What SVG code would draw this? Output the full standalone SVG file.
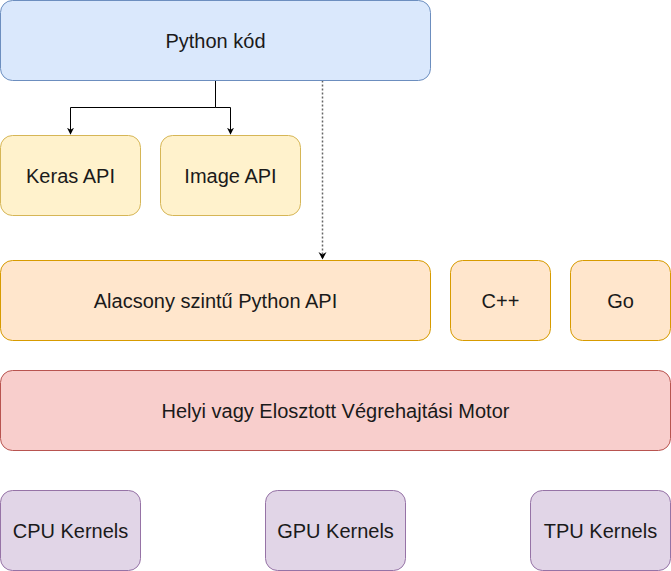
<svg xmlns="http://www.w3.org/2000/svg" width="671" height="571" viewBox="0 0 671 571">
<style>
text{font-family:"Liberation Sans",Arial,Helvetica,sans-serif;font-size:20px;fill:#1a1a1a;text-anchor:middle}
.blue{fill:#dae8fc;stroke:#6c8ebf}
.yel{fill:#fff2cc;stroke:#d6b656}
.ora{fill:#ffe6cc;stroke:#d79b00}
.red{fill:#f8cecc;stroke:#b85450}
.pur{fill:#e1d5e7;stroke:#9673a6}
rect{stroke-width:1}
.edge{fill:none;stroke:#000;stroke-width:1}
.dot{fill:none;stroke:#666;stroke-width:1.5;stroke-dasharray:2 2}
</style>
<defs>
<marker id="ah" viewBox="0 0 10 10" refX="9" refY="5" markerWidth="7" markerHeight="7" markerUnits="userSpaceOnUse" orient="auto">
<path d="M0,0 L10,5 L0,10 L3,5 Z" fill="#000"/>
</marker>
</defs>
<rect width="671" height="571" fill="#fff"/>
<g id="edges">
<path class="edge" d="M215.5,80.5 V107.5 H70.5 V134" marker-end="url(#ah)"/>
<path class="edge" d="M215.5,107.5 H230.5 V134" marker-end="url(#ah)"/>
<path class="dot" d="M322.5,80.5 V258"/>
<path d="M318.5,252 L322.5,259.5 L326.5,252 L322.5,254.5 Z" fill="#000"/>
</g>
<g id="python"><rect class="blue" x="0.5" y="0.5" width="430" height="80" rx="12"/><text x="215.5" y="48">Python kód</text></g>
<g id="keras"><rect class="yel" x="0.5" y="135.5" width="140" height="80" rx="12"/><text x="70.5" y="183">Keras API</text></g>
<g id="image"><rect class="yel" x="160.5" y="135.5" width="140" height="80" rx="12"/><text x="230.5" y="183">Image API</text></g>
<g id="lowlevel"><rect class="ora" x="0.5" y="260.5" width="430" height="80" rx="12"/><text x="215.5" y="308">Alacsony szintű Python API</text></g>
<g id="cpp"><rect class="ora" x="450.5" y="260.5" width="100" height="80" rx="12"/><text x="500.5" y="308">C++</text></g>
<g id="go"><rect class="ora" x="570.5" y="260.5" width="100" height="80" rx="12"/><text x="620.5" y="308">Go</text></g>
<g id="engine"><rect class="red" x="0.5" y="370.5" width="670" height="80" rx="12"/><text x="335.5" y="418">Helyi vagy Elosztott Végrehajtási Motor</text></g>
<g id="cpu"><rect class="pur" x="0.5" y="490.5" width="140" height="80" rx="12"/><text x="70.5" y="538">CPU Kernels</text></g>
<g id="gpu"><rect class="pur" x="265.5" y="490.5" width="140" height="80" rx="12"/><text x="335.5" y="538">GPU Kernels</text></g>
<g id="tpu"><rect class="pur" x="530.5" y="490.5" width="140" height="80" rx="12"/><text x="600.5" y="538">TPU Kernels</text></g>
</svg>
